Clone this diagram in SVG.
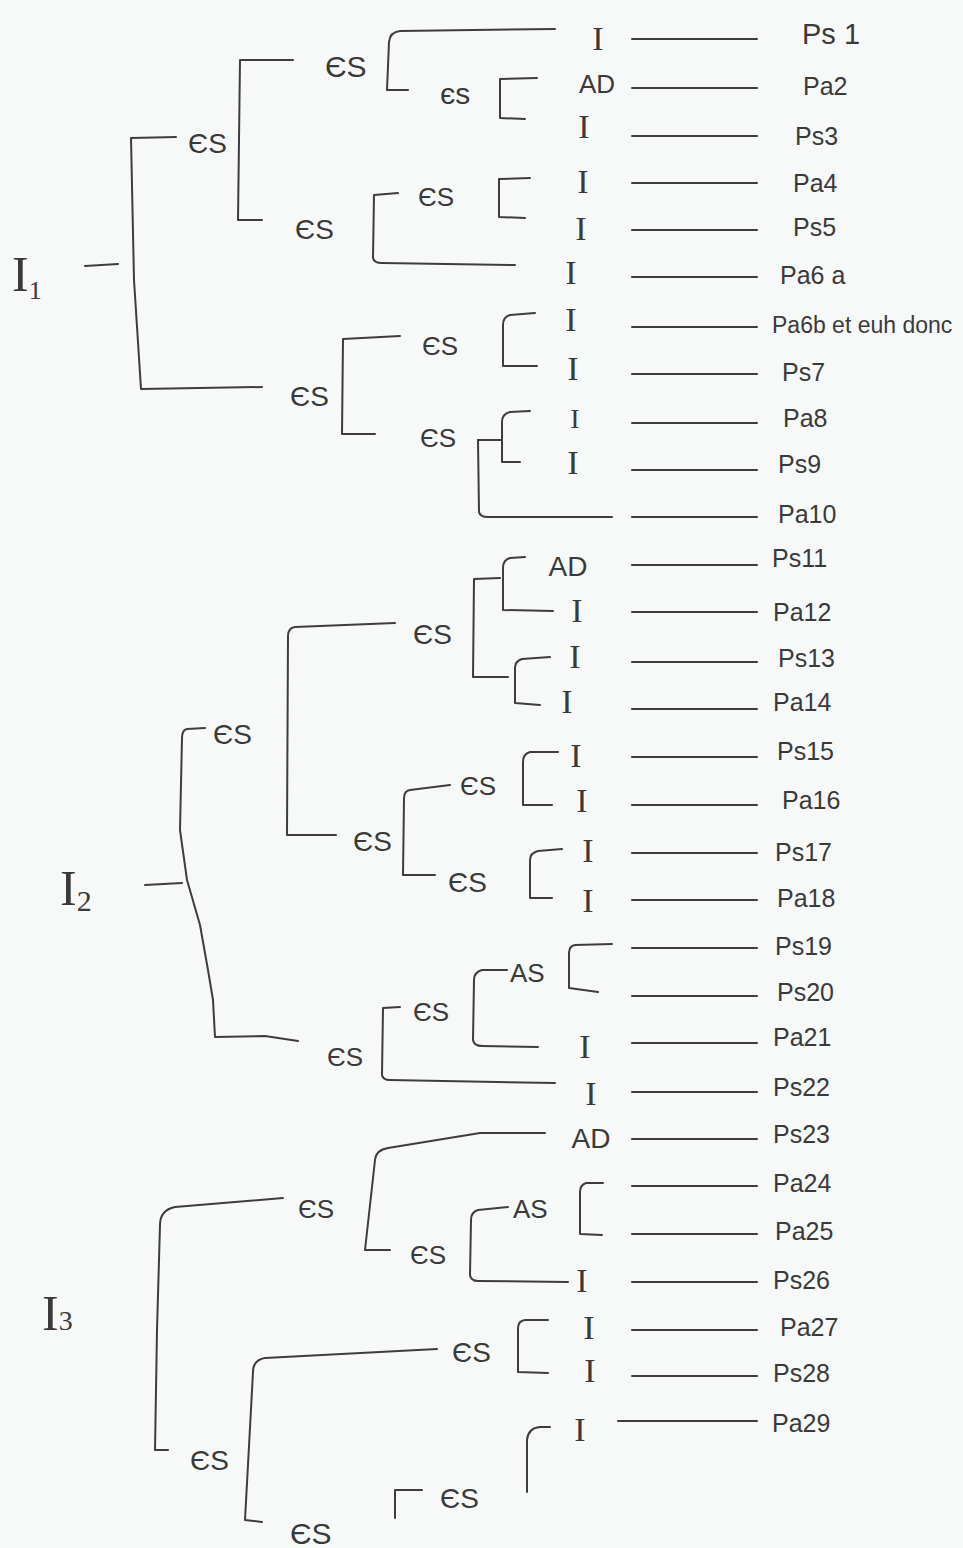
<svg xmlns="http://www.w3.org/2000/svg" width="963" height="1548" viewBox="0 0 963 1548">
<style>
.ln{fill:none;stroke:#3d3d3d;stroke-width:2;stroke-linecap:round;stroke-linejoin:round}
.t{font-family:"Liberation Sans",Arial,sans-serif;fill:#3a3a3a}
.es{font-size:28px}
.ii{font-family:"Liberation Serif","Times New Roman",serif;font-size:34px;fill:#3a3a3a;text-anchor:middle}
.ad{font-family:"Liberation Sans",Arial,sans-serif;font-size:28px;fill:#3a3a3a;text-anchor:middle}
.lb{font-family:"Liberation Sans",Arial,sans-serif;font-size:25px;fill:#3a3a3a}
.root{font-family:"Liberation Serif","Times New Roman",serif;font-size:50px;fill:#3a3a3a}
</style>
<rect width="963" height="1548" fill="#f7f9f8"/>
<g id="connectors">
<!-- I1 tree -->
<path class="ln" d="M85,266 L118,264"/>
<path class="ln" d="M176,137 L131,138 L134,280 L141,389 L262,387"/>
<path class="ln" d="M293,60 L240,60 L238,220 L262,220"/>
<path class="ln" d="M555,29 L400,31 Q390,32 389,42 L387,90 L408,90"/>
<path class="ln" d="M537,78 L500,79 L500,118 L525,119"/>
<path class="ln" d="M398,193 L374,195 L373,258 Q374,263 382,263 L515,265"/>
<path class="ln" d="M530,178 L499,179 L499,217 L525,218"/>
<path class="ln" d="M400,336 L343,339 L342,434 L375,434"/>
<path class="ln" d="M535,313 L510,315 Q503,317 503,325 L503,366 L537,366"/>
<path class="ln" d="M478,440 L502,440"/>
<path class="ln" d="M478,440 L479,512 Q480,517 488,517 L612,517"/>
<path class="ln" d="M530,411 L510,412 Q502,414 502,422 L502,462 L520,462"/>
<!-- I2 tree -->
<path class="ln" d="M145,885 L182,883"/>
<path class="ln" d="M205,728 L187,729 Q182,730 182,738 L180,830 L187,880 L200,925 L208,970 L213,1000 L215,1037 L265,1036 L298,1041"/>
<path class="ln" d="M395,623 L295,627 Q288,628 288,636 L287,835 L336,835"/>
<path class="ln" d="M500,578 L474,579 L473,677 L508,677"/>
<path class="ln" d="M525,557 L510,558 Q503,560 503,568 L503,610 L553,611"/>
<path class="ln" d="M550,657 L522,659 Q515,661 515,668 L515,703 L540,705"/>
<path class="ln" d="M450,785 L410,790 Q404,791 404,798 L403,875 L435,875"/>
<path class="ln" d="M558,752 L530,752 Q523,754 523,762 L523,805 L552,805"/>
<path class="ln" d="M562,849 L538,851 Q530,853 530,860 L530,898 L552,898"/>
<path class="ln" d="M400,1007 L383,1008 L382,1075 Q383,1080 390,1080 L555,1083"/>
<path class="ln" d="M507,970 L482,970 Q474,972 474,980 L473,1040 Q474,1046 482,1046 L538,1047"/>
<path class="ln" d="M612,944 L575,945 Q569,946 569,953 L569,988 L598,992"/>
<!-- I3 tree -->
<path class="ln" d="M283,1198 L175,1207 Q160,1210 160,1225 L157,1330 L155,1450 L168,1450"/>
<path class="ln" d="M545,1133 L480,1133 L388,1148 Q376,1150 375,1160 L365,1250 L390,1250"/>
<path class="ln" d="M508,1207 L478,1210 Q471,1212 471,1220 L470,1275 Q471,1281 478,1281 L568,1282"/>
<path class="ln" d="M603,1183 L586,1183 Q580,1185 580,1192 L580,1234 L602,1235"/>
<path class="ln" d="M437,1349 L265,1358 Q253,1360 253,1372 L245,1520 L262,1522"/>
<path class="ln" d="M548,1320 L525,1320 Q518,1321 518,1328 L518,1372 L548,1373"/>
<path class="ln" d="M395,1518 L395,1490 L422,1490"/>
<path class="ln" d="M527,1492 L527,1440 Q528,1428 540,1427 L550,1427"/>
<!-- leaf lines -->
<path class="ln" d="M632,39 H757 M632,88 H757 M632,136 H757 M632,183 H757 M632,230 H757 M632,277 H757 M632,327 H757 M632,374 H757 M632,423 H757 M632,470 H757 M632,517 H757 M632,565 H757 M632,612 H757 M632,662 H757 M632,709 H757 M632,757 H757 M632,805 H757 M632,853 H757 M632,900 H757 M632,948 H757 M632,996 H757 M632,1043 H757 M632,1092 H757 M632,1139 H757 M632,1186 H757 M632,1234 H757 M632,1282 H757 M632,1330 H757 M632,1376 H757 M618,1421 H757"/>
</g>
<!-- roots -->
<g id="I1"><text class="root" x="12" y="291">I<tspan style="font-size:26px" dy="8">1</tspan></text></g>
<g id="I2"><text class="root" x="60" y="905">I<tspan style="font-size:30px" dy="6">2</tspan></text></g>
<g id="I3"><text class="root" x="42" y="1330">I<tspan style="font-size:28px">3</tspan></text></g>
<!-- inner nodes -->
<g id="n1"><text class="t es" x="188" y="153">ЄS</text></g>
<g id="n2"><text class="t" font-size="30" x="325" y="77">ЄS</text></g>
<g id="n3"><text class="t" font-size="30" x="440" y="104">єs</text></g>
<g id="n4"><text class="t es" x="295" y="239">ЄS</text></g>
<g id="n5"><text class="t" font-size="26" x="418" y="206">ЄS</text></g>
<g id="n6"><text class="t es" x="290" y="406">ЄS</text></g>
<g id="n7"><text class="t" font-size="26" x="422" y="355">ЄS</text></g>
<g id="n8"><text class="t" font-size="26" x="420" y="447">ЄS</text></g>
<g id="n9"><text class="t es" x="213" y="744">ЄS</text></g>
<g id="n10"><text class="t es" x="413" y="644">ЄS</text></g>
<g id="n11"><text class="t es" x="353" y="851">ЄS</text></g>
<g id="n12"><text class="t" font-size="26" x="460" y="795">ЄS</text></g>
<g id="n13"><text class="t es" x="448" y="892">ЄS</text></g>
<g id="n14"><text class="t" font-size="26" x="327" y="1066">ЄS</text></g>
<g id="n15"><text class="t" font-size="26" x="413" y="1021">ЄS</text></g>
<g id="n16"><text class="t" font-size="26" x="510" y="982">AS</text></g>
<g id="n17"><text class="t" font-size="26" x="298" y="1218">ЄS</text></g>
<g id="n18"><text class="t" font-size="26" x="410" y="1264">ЄS</text></g>
<g id="n19"><text class="t" font-size="26" x="513" y="1218">AS</text></g>
<g id="n20"><text class="t es" x="452" y="1362">ЄS</text></g>
<g id="n21"><text class="t es" x="190" y="1470">ЄS</text></g>
<g id="n22"><text class="t" font-size="30" x="290" y="1544">ЄS</text></g>
<g id="n23"><text class="t es" x="440" y="1508">ЄS</text></g>
<!-- leaf relation nodes -->
<g id="r1"><text class="ii" x="598" y="50">I</text></g>
<g id="r2"><text class="ad" style="font-size:26px" x="597" y="93">AD</text></g>
<g id="r3"><text class="ii" x="584" y="138">I</text></g>
<g id="r4"><text class="ii" x="583" y="193">I</text></g>
<g id="r5"><text class="ii" x="581" y="240">I</text></g>
<g id="r6"><text class="ii" x="571" y="284">I</text></g>
<g id="r7"><text class="ii" x="571" y="331">I</text></g>
<g id="r8"><text class="ii" x="573" y="380">I</text></g>
<g id="r9"><text class="ii" style="font-size:28px" x="575" y="428">I</text></g>
<g id="r10"><text class="ii" x="573" y="474">I</text></g>
<g id="r12"><text class="ad" x="568" y="576">AD</text></g>
<g id="r13"><text class="ii" x="577" y="622">I</text></g>
<g id="r14"><text class="ii" x="575" y="668">I</text></g>
<g id="r15"><text class="ii" x="567" y="713">I</text></g>
<g id="r16"><text class="ii" x="576" y="767">I</text></g>
<g id="r17"><text class="ii" x="582" y="812">I</text></g>
<g id="r18"><text class="ii" x="588" y="862">I</text></g>
<g id="r19"><text class="ii" x="588" y="912">I</text></g>
<g id="r21"><text class="ii" x="585" y="1058">I</text></g>
<g id="r22"><text class="ii" x="591" y="1105">I</text></g>
<g id="r23"><text class="ad" x="591" y="1148">AD</text></g>
<g id="r26"><text class="ii" x="582" y="1292">I</text></g>
<g id="r27"><text class="ii" x="589" y="1339">I</text></g>
<g id="r28"><text class="ii" x="590" y="1382">I</text></g>
<g id="r29"><text class="ii" x="580" y="1441">I</text></g>
<!-- leaf labels -->
<g id="p1"><text class="lb" style="font-size:29px" x="802" y="44">Ps 1</text></g>
<g id="p2"><text class="lb" x="803" y="95">Pa2</text></g>
<g id="p3"><text class="lb" x="795" y="145">Ps3</text></g>
<g id="p4"><text class="lb" x="793" y="192">Pa4</text></g>
<g id="p5"><text class="lb" x="793" y="236">Ps5</text></g>
<g id="p6a"><text class="lb" x="780" y="284">Pa6 a</text></g>
<g id="p6b"><text class="lb" style="font-size:23px" x="772" y="333">Pa6b et euh donc</text></g>
<g id="p7"><text class="lb" x="782" y="381">Ps7</text></g>
<g id="p8"><text class="lb" x="783" y="427">Pa8</text></g>
<g id="p9"><text class="lb" x="778" y="473">Ps9</text></g>
<g id="p10"><text class="lb" x="778" y="523">Pa10</text></g>
<g id="p11"><text class="lb" x="772" y="567">Ps11</text></g>
<g id="p12"><text class="lb" x="773" y="621">Pa12</text></g>
<g id="p13"><text class="lb" x="778" y="667">Ps13</text></g>
<g id="p14"><text class="lb" x="773" y="711">Pa14</text></g>
<g id="p15"><text class="lb" x="777" y="760">Ps15</text></g>
<g id="p16"><text class="lb" x="782" y="809">Pa16</text></g>
<g id="p17"><text class="lb" x="775" y="861">Ps17</text></g>
<g id="p18"><text class="lb" x="777" y="907">Pa18</text></g>
<g id="p19"><text class="lb" x="775" y="955">Ps19</text></g>
<g id="p20"><text class="lb" x="777" y="1001">Ps20</text></g>
<g id="p21"><text class="lb" x="773" y="1046">Pa21</text></g>
<g id="p22"><text class="lb" x="773" y="1096">Ps22</text></g>
<g id="p23"><text class="lb" x="773" y="1143">Ps23</text></g>
<g id="p24"><text class="lb" x="773" y="1192">Pa24</text></g>
<g id="p25"><text class="lb" x="775" y="1240">Pa25</text></g>
<g id="p26"><text class="lb" x="773" y="1289">Ps26</text></g>
<g id="p27"><text class="lb" x="780" y="1336">Pa27</text></g>
<g id="p28"><text class="lb" x="773" y="1382">Ps28</text></g>
<g id="p29"><text class="lb" x="772" y="1432">Pa29</text></g>
</svg>
